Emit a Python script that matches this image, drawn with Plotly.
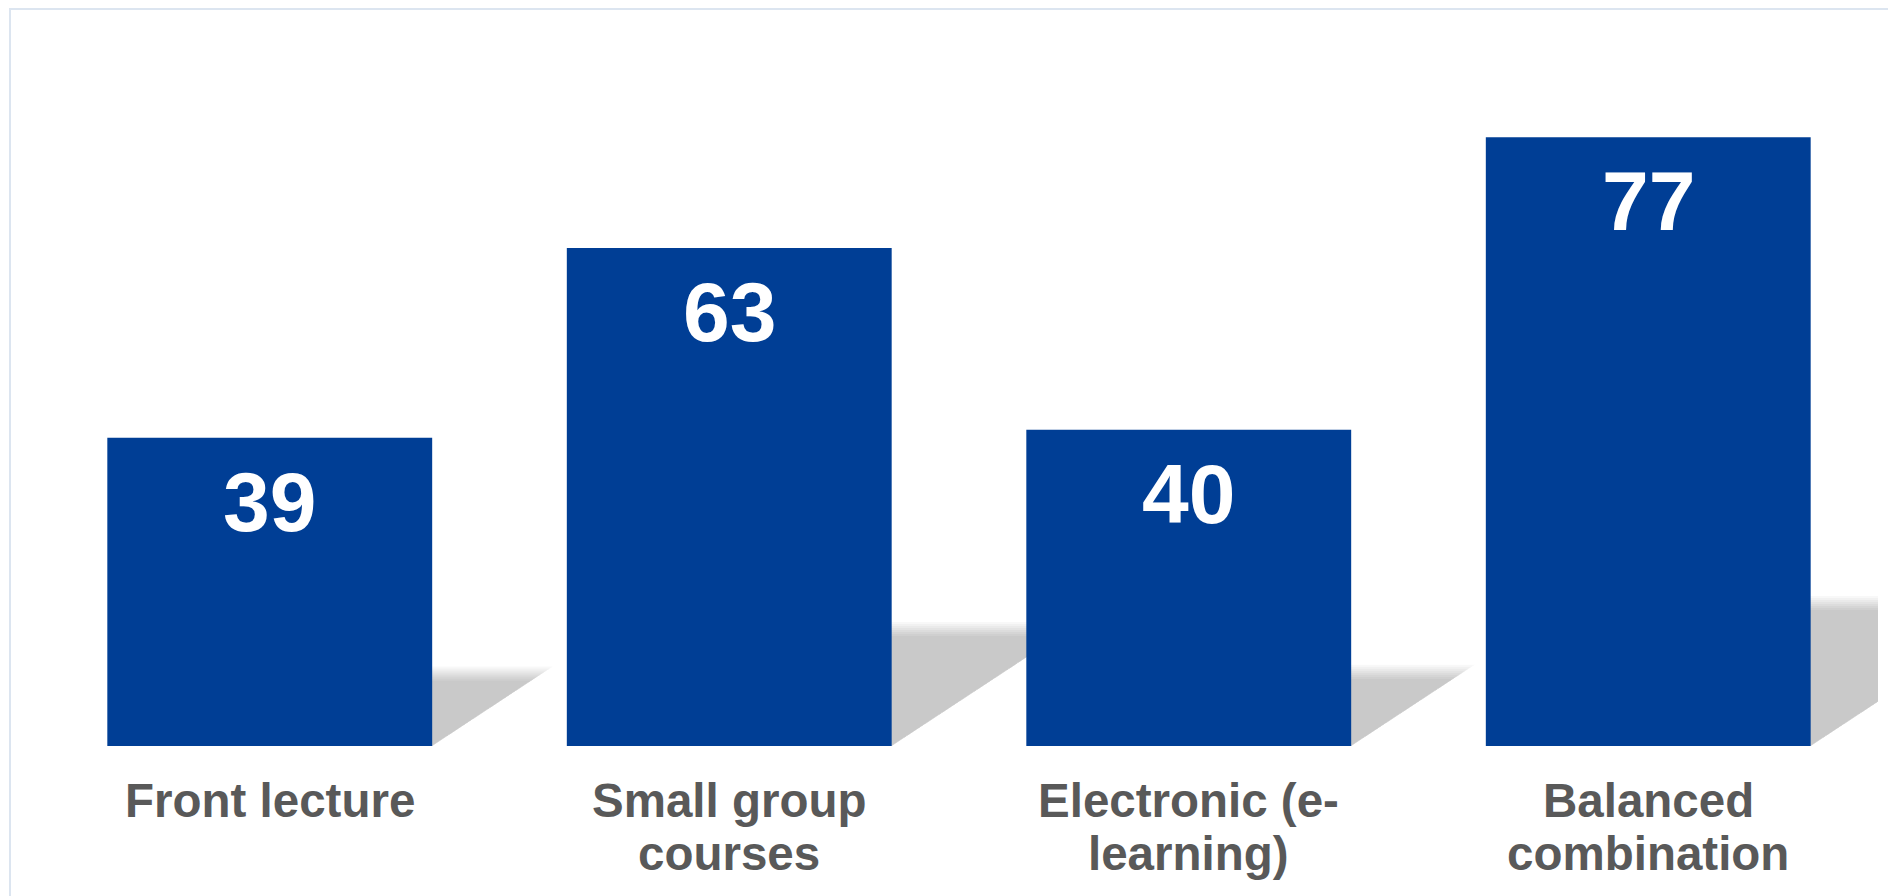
import plotly.graph_objects as go

categories = ["Front lecture", "Small group courses", "Electronic (e-learning)", "Balanced combination"]
tick_labels = ["Front lecture", "Small group<br>courses", "Electronic (e-<br>learning)", "Balanced<br>combination"]
values = [39, 63, 40, 77]

BAR_COLOR = "#003E95"
LABEL_COLOR = "#595959"
FONT = "Liberation Sans, Arial, sans-serif"

W, H = 1896, 896
M_L, M_R, M_T, M_B = 32, 26, 66, 158
Y_MAX = 85
BAR_W = 0.707

plot_w = W - M_L - M_R
plot_h = H - M_T - M_B
px_per_cat = plot_w / len(categories)
px_per_unit = plot_h / Y_MAX

fig = go.Figure()
fig.add_trace(go.Bar(
    x=list(range(len(categories))),
    y=values,
    width=BAR_W,
    marker=dict(color=BAR_COLOR, line=dict(width=0)),
    hovertext=categories,
    hoverinfo="text+y",
))

# soft drop shadows behind each bar (derived from the bar values)
shapes = []
SHADOW_RATIO = 0.235
SLOPE = 1.52
for i, v in enumerate(values):
    xr = i + BAR_W / 2
    h_units = SHADOW_RATIO * v
    h_px = h_units * px_per_unit
    dx_cat = h_px * SLOPE / px_per_cat
    for s in [-7, -5, -3, -1, 1, 3, 5, 7]:
        f = 1 + s / h_px
        path = (f"M {xr - 0.05},0 L {xr - 0.05},{h_units * f} "
                f"L {xr + dx_cat * f},{h_units * f} L {xr},0 Z")
        shapes.append(dict(type="path", path=path, xref="x", yref="y",
                           fillcolor="rgba(0,0,0,0.0275)", line=dict(width=0),
                           layer="below"))

# light frame border
px2x = lambda p: (p - M_L) / plot_w
px2y = lambda p: (H - M_B - p) / plot_h
shapes.append(dict(type="rect", xref="paper", yref="paper",
                   x0=px2x(2), x1=px2x(1910), y0=px2y(1), y1=px2y(910),
                   line=dict(color="#DCE5F0", width=2), fillcolor="rgba(0,0,0,0)",
                   layer="above"))

annotations = []
for i, v in enumerate(values):
    annotations.append(dict(x=i, y=v, xref="x", yref="y", text=str(v),
                            showarrow=False, yanchor="top", yshift=-15,
                            font=dict(family=FONT, size=84, color="white",
                                      weight="bold")))

# category labels (one annotation per line for tight line spacing)
LINE_STEP = 52.7
for i, lab in enumerate(tick_labels):
    for j, line in enumerate(lab.split("<br>")):
        annotations.append(dict(x=i, y=0, xref="x", yref="y", text=line,
                                showarrow=False, yanchor="top",
                                yshift=-26 - j * LINE_STEP,
                                font=dict(family=FONT, size=47.5, color=LABEL_COLOR,
                                          weight="bold")))

fig.update_layout(
    width=W, height=H,
    margin=dict(l=M_L, r=M_R, t=M_T, b=M_B, autoexpand=False),
    paper_bgcolor="white", plot_bgcolor="white",
    showlegend=False,
    shapes=shapes,
    annotations=annotations,
    xaxis=dict(range=[-0.5, len(categories) - 0.5], tickmode="array",
               tickvals=list(range(len(categories))), ticktext=tick_labels,
               showticklabels=False,
               showgrid=False, zeroline=False, showline=False, ticks=""),
    yaxis=dict(range=[0, Y_MAX], visible=False, showgrid=False, zeroline=False),
)

fig.write_html("out.html")
